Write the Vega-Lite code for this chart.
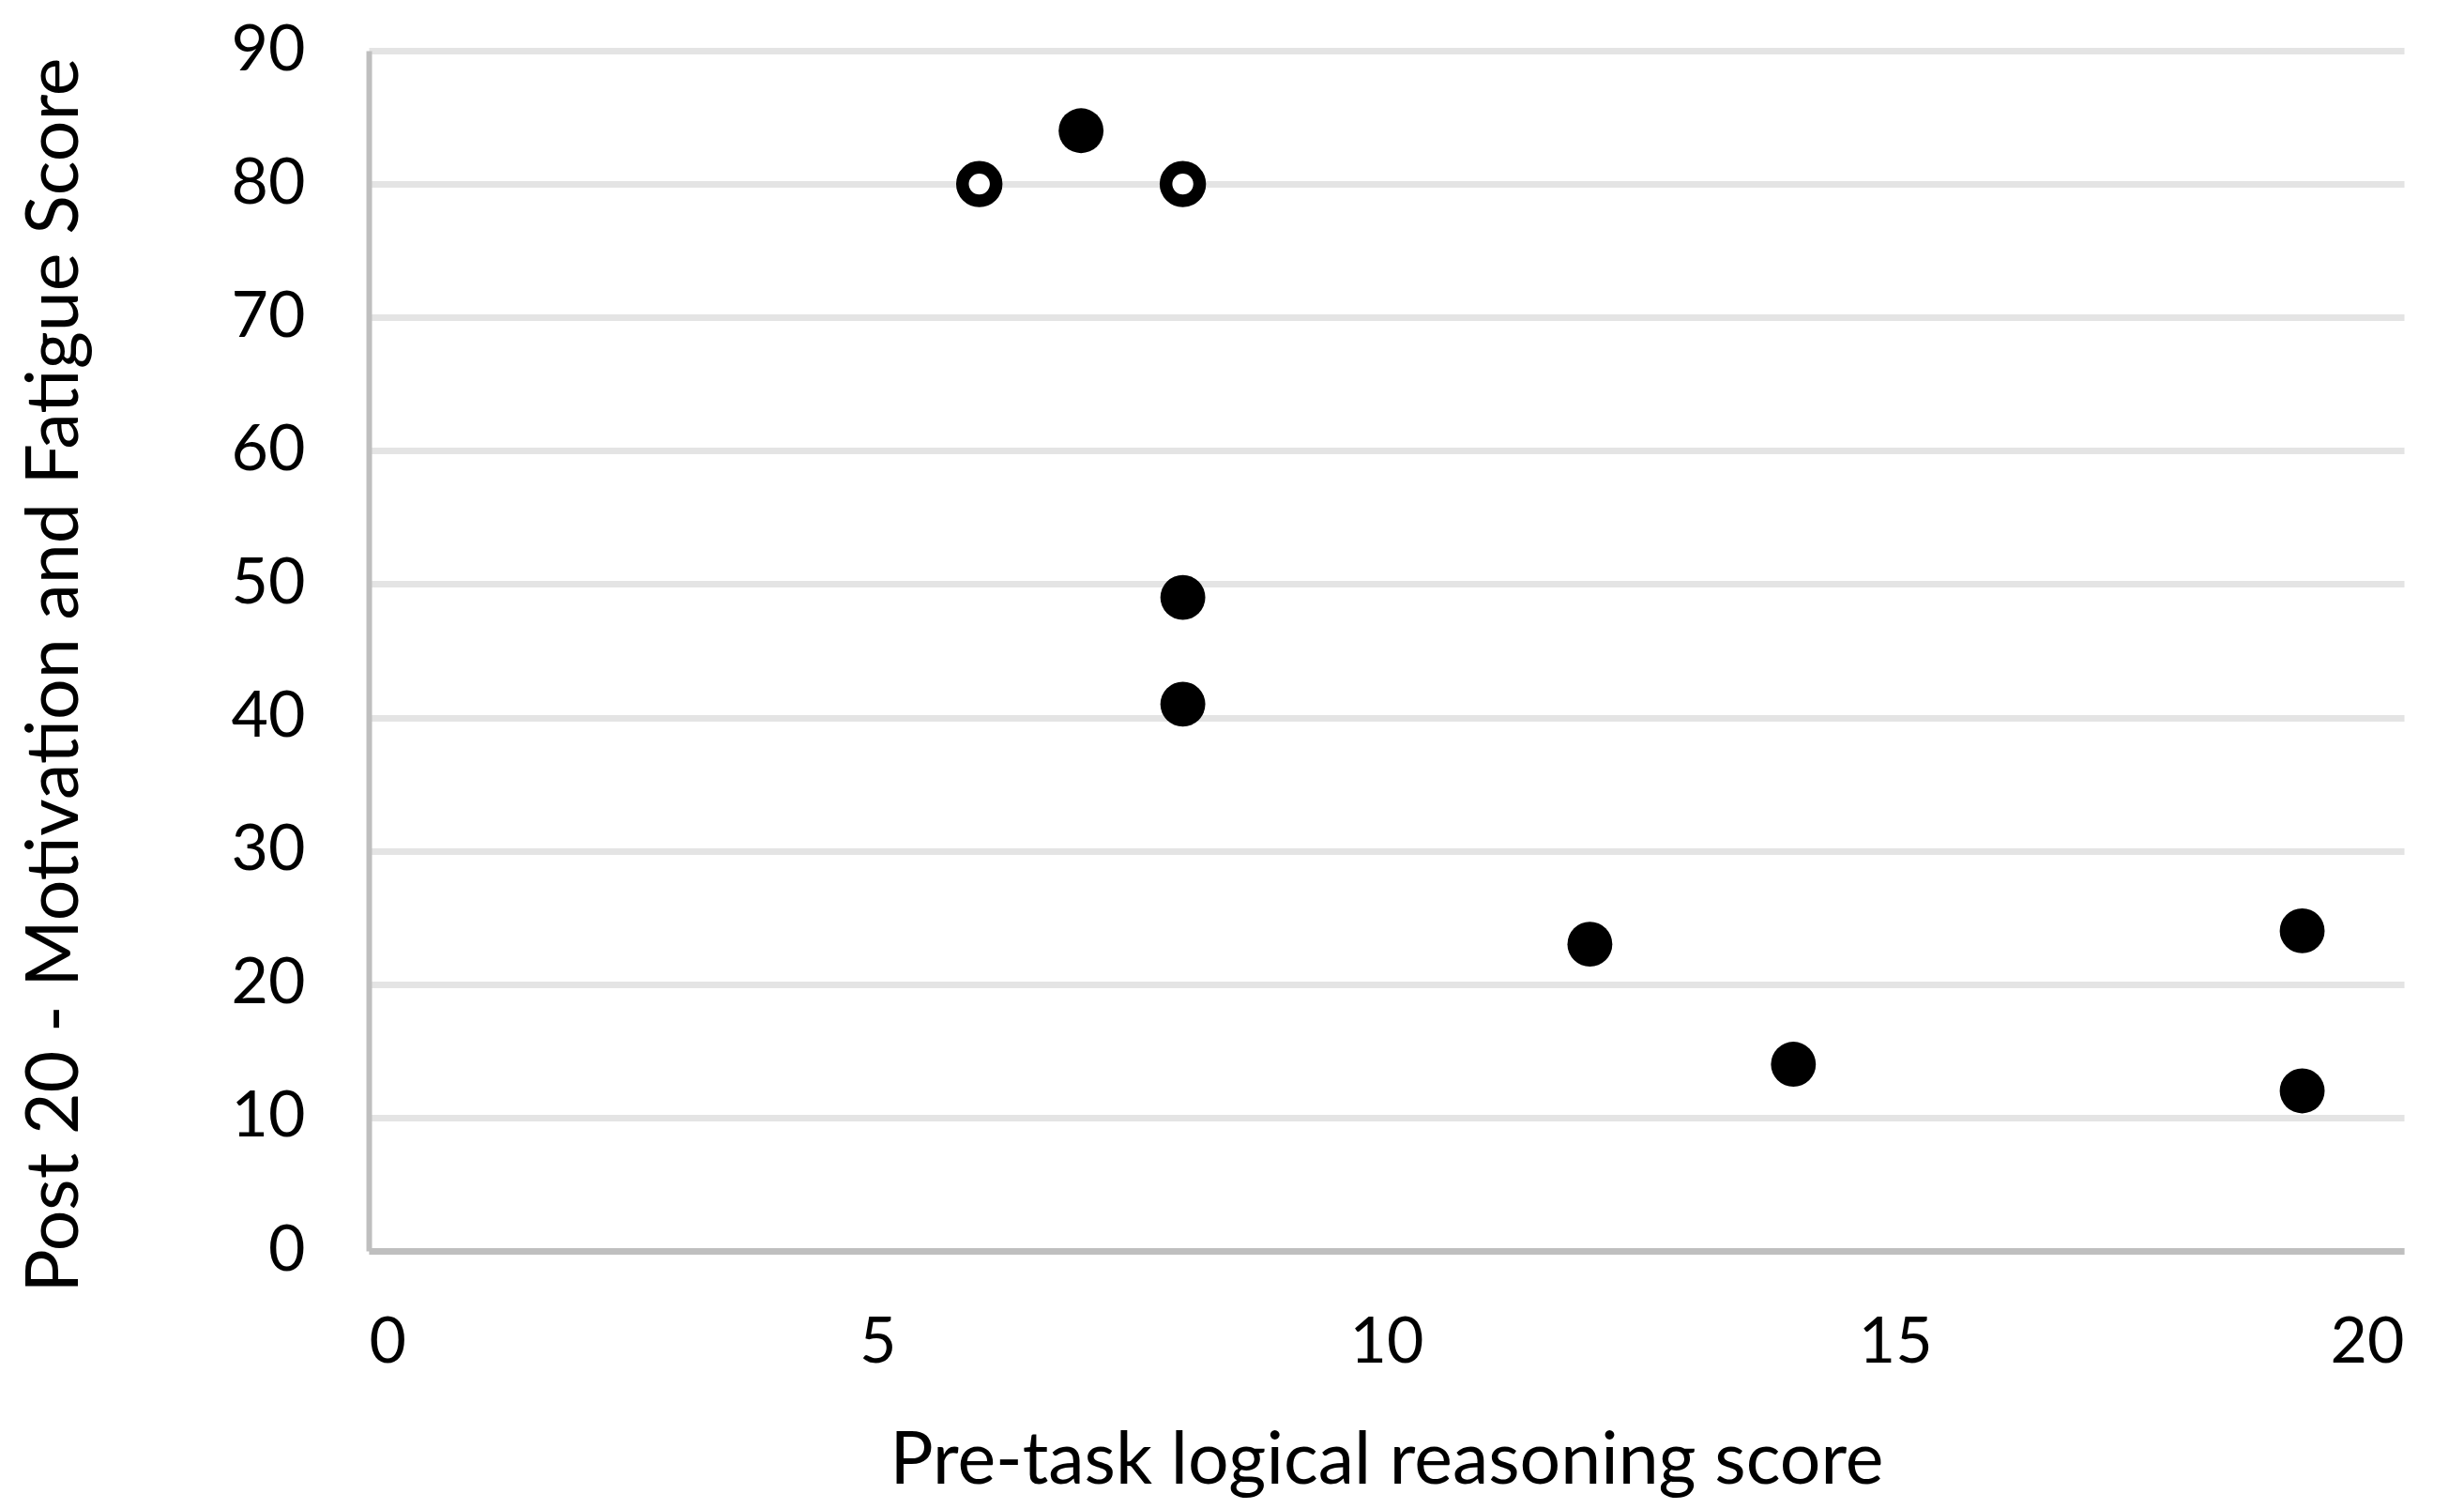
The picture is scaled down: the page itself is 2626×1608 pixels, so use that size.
{
  "$schema": "https://vega.github.io/schema/vega-lite/v6.json",
  "width": 2169,
  "height": 1279,
  "autosize": {"type": "none"},
  "padding": {"left": 393, "top": 54, "right": 64, "bottom": 275},
  "background": "white",
  "config": {"view": {"stroke": null}},
  "data": {
    "values": [
      {"score": 6, "fatigue": 80, "kind": "open"},
      {"score": 8, "fatigue": 80, "kind": "open"},
      {"score": 7, "fatigue": 84, "kind": "filled"},
      {"score": 8, "fatigue": 49, "kind": "filled"},
      {"score": 8, "fatigue": 41, "kind": "filled"},
      {"score": 12, "fatigue": 23, "kind": "filled"},
      {"score": 14, "fatigue": 14, "kind": "filled"},
      {"score": 19, "fatigue": 24, "kind": "filled"},
      {"score": 19, "fatigue": 12, "kind": "filled"}
    ]
  },
  "mark": {"type": "point", "shape": "circle", "opacity": 1, "stroke": "black", "filled": false},
  "encoding": {
    "x": {
      "field": "score", "type": "quantitative",
      "scale": {"domain": [0, 20], "nice": false, "zero": false},
      "axis": {
        "values": [0, 5, 10, 15, 20], "grid": false, "ticks": false,
        "domainColor": "#BFBFBF", "domainWidth": 7,
        "labelFont": "Lato", "labelFontSize": 68, "labelColor": "black", "labelPadding": 64,
        "title": "Pre-task logical reasoning score",
        "titleFont": "Lato", "titleFontSize": 77, "titleFontWeight": "normal", "titleColor": "black",
        "titleBaseline": "middle", "titleY": 224
      }
    },
    "y": {
      "field": "fatigue", "type": "quantitative",
      "scale": {"domain": [0, 90], "nice": false},
      "axis": {
        "values": [0, 10, 20, 30, 40, 50, 60, 70, 80, 90], "grid": true,
        "gridColor": "#E4E4E4", "gridWidth": 7, "ticks": false,
        "domainColor": "#BFBFBF", "domainWidth": 6,
        "labelFont": "Lato", "labelFontSize": 68, "labelColor": "black", "labelPadding": 68,
        "title": "Post 20 - Motivation and Fatigue Score",
        "titleFont": "Lato", "titleFontSize": 77, "titleFontWeight": "normal", "titleColor": "black",
        "titleAngle": -90, "titleBaseline": "middle", "titleAlign": "center",
        "titleX": -334, "titleY": 665
      }
    },
    "fill": {
      "field": "kind", "type": "nominal",
      "scale": {"domain": ["filled", "open"], "range": ["black", "white"]},
      "legend": null
    },
    "size": {
      "field": "kind", "type": "nominal",
      "scale": {"domain": ["filled", "open"], "range": [2290, 1290]},
      "legend": null
    },
    "strokeWidth": {
      "field": "kind", "type": "nominal",
      "scale": {"domain": ["filled", "open"], "range": [0, 13.5]},
      "legend": null
    }
  }
}
